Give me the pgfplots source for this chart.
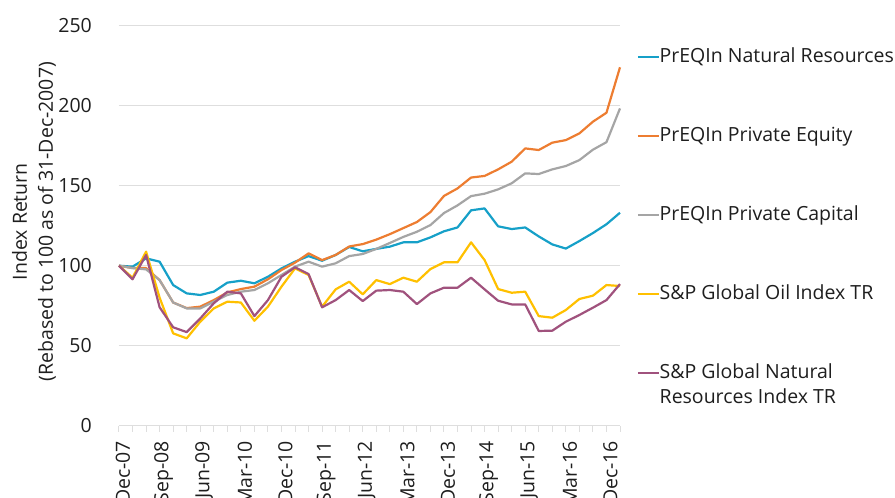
\documentclass[border=0pt]{standalone}
\usepackage{fontspec}
\setmainfont{Open Sans}
\usepackage{pgfplots}
\pgfplotsset{compat=1.18}
\usepackage{pgfplotstable}
\definecolor{cblue}{RGB}{22,160,200}
\definecolor{corange}{RGB}{237,125,49}
\definecolor{cgray}{RGB}{165,165,165}
\definecolor{cyellow}{RGB}{255,192,0}
\definecolor{cpurple}{RGB}{160,82,125}
\definecolor{gridcol}{RGB}{222,222,222}
\definecolor{txt}{RGB}{30,30,30}
\pgfplotstableread{
i blue orange gray yellow purple
0 100 100 100 100 100
1 99.4 98.5 98.5 92.5 91.5
2 104.6 98.5 97.7 108.8 106.7
3 102.5 91 91 80 74
4 87.9 77 77 57.7 61.5
5 82.7 73.5 73.3 54.6 58.5
6 81.7 74.4 73.3 65 67
7 83.75 78.5 77.5 73.3 76.5
8 89.4 83.3 81.7 77.5 83.75
9 90.6 85.4 83.75 77 82.7
10 89 86.9 84.8 65.6 68.5
11 93.1 91.5 89 74.4 78.5
12 98.3 97.3 94.2 86.9 93.1
13 102.5 101.9 99.4 98.3 99
14 106 107.7 102.5 94.2 94.8
15 103.1 103.5 99.4 74.4 74
16 106.7 106.7 101.5 85.2 78.5
17 111.7 112 106 90 84.8
18 109 113.5 107.3 82.1 77.9
19 110.5 116.3 110.5 91 84.4
20 111.9 119.7 114.2 88.5 84.8
21 114.6 123.5 118 92.5 83.75
22 114.6 127.3 121.2 90 76
23 117.7 133.5 125.4 97.9 82.7
24 121.5 143.6 132.9 102.1 86.25
25 123.9 148.3 137.7 102.1 86.25
26 134.6 155.1 143.5 114.6 92.5
27 135.8 156.1 145 103.5 85.2
28 124.6 160.2 147.7 85.4 78.1
29 122.9 165 151.5 83.1 75.8
30 123.9 173.3 157.7 83.75 75.8
31 118.3 172.3 157.3 68.5 59.2
32 113.3 176.9 160.2 67.5 59.4
33 110.7 178.5 162.3 72.3 65
34 115.4 182.7 166 79.2 69.2
35 120.4 190 172.5 81.25 73.75
36 125.9 195.6 177.2 87.9 78.5
37 133.1 224 198.3 87.3 88.5
}\data
\begin{document}
\begin{tikzpicture}[x=1pt,y=1pt]
\begin{axis}[
  at={(119pt,72.3pt)}, anchor=south west,
  scale only axis, width=501pt, height=400pt,
  xmin=0, xmax=37, ymin=0, ymax=250,
  clip=false,
  axis lines*=left,
  y axis line style={draw=none},
  x axis line style={gridcol, line width=1.3pt},
  ytick={0,50,...,250},
  ytick style={draw=none},
  xtick={0,...,37},
  xticklabels={Dec-07,,,Sep-08,,,Jun-09,,,Mar-10,,,Dec-10,,,Sep-11,,,Jun-12,,,Mar-13,,,Dec-13,,,Sep-14,,,Jun-15,,,Mar-16,,,Dec-16,},
  xtick style={gridcol, line width=1pt},
  tick align=outside, major tick length=6pt,
  ymajorgrids, grid style={gridcol, line width=1.3pt},
  /pgf/number format/assume math mode=true,
  tick label style={font=\fontsize{19.5}{23}\selectfont, text=txt},
  xticklabel style={rotate=90, anchor=east, inner sep=0pt, yshift=-4pt, xshift=-9pt},
  yticklabel style={anchor=east, inner sep=0pt, xshift=-21pt},
  ylabel={Index Return\\(Rebased to 100 as of 31-Dec-2007)},
  every axis y label/.style={at={(axis description cs:0,0.5)}, rotate=90, anchor=center, xshift=4pt, yshift=85pt, align=center, font=\fontsize{19.5}{26}\selectfont, text=txt},
  legend style={draw=none, fill=none, at={(axis description cs:1,1)}, anchor=north west, xshift=14pt, yshift=-21pt,
    font=\fontsize{19.5}{25}\selectfont, text=txt, row sep=60pt,
    nodes={inner sep=0pt, text height=14pt, text depth=5pt, anchor=base west}},
  legend cell align=left,
  legend image code/.code={\draw[#1, line width=1.5pt] (0pt,6pt) -- (21pt,6pt);},
  every axis plot/.append style={line width=2.2pt, line join=round, mark=none},
]
\addplot[cblue] table[x=i, y=blue] {\data};
\addlegendentry{PrEQIn Natural Resources}
\addplot[corange] table[x=i, y=orange] {\data};
\addlegendentry{PrEQIn Private Equity}
\addplot[cgray] table[x=i, y=gray] {\data};
\addlegendentry{PrEQIn Private Capital}
\addplot[cyellow] table[x=i, y=yellow] {\data};
\addlegendentry{S\&P Global Oil Index TR}
\addplot[cpurple] table[x=i, y=purple] {\data};
\addlegendentry{\parbox[t]{230pt}{S\&P Global Natural\\[0pt]Resources Index TR}}
\end{axis}
\pgfresetboundingbox
\path[use as bounding box] (0,0) rectangle (895,498);
\end{tikzpicture}
\end{document}
